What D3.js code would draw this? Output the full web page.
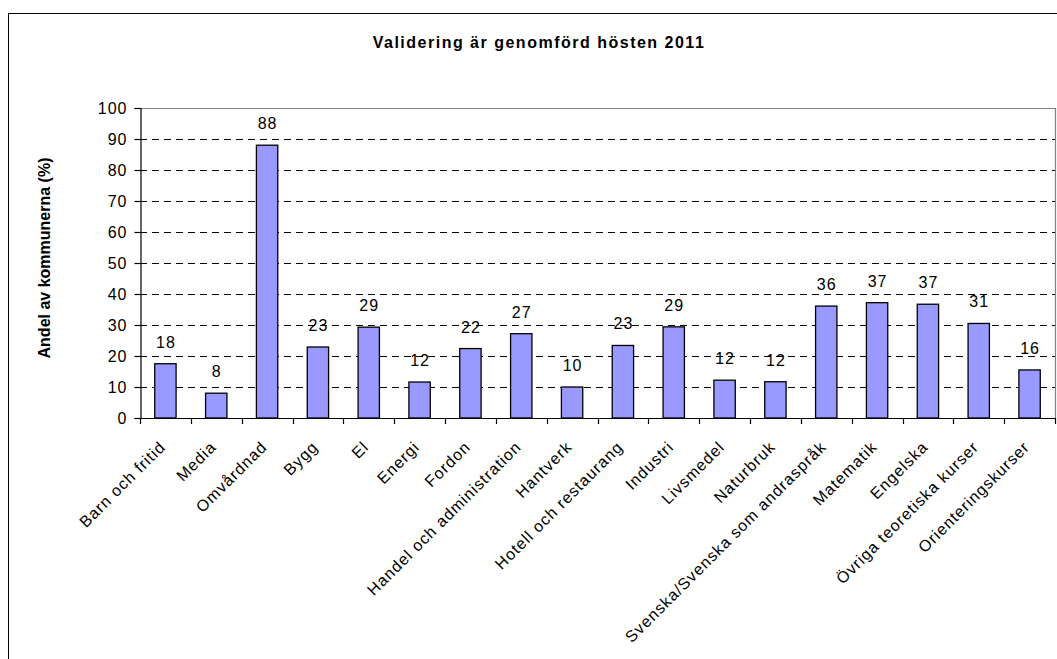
<!DOCTYPE html>
<html><head><meta charset="utf-8">
<script src="https://cdn.jsdelivr.net/npm/d3@7"></script>
<style>
body{margin:0;background:#fff;}
svg{display:block;font-family:"Liberation Sans",Arial,sans-serif;}
</style></head>
<body><svg id="c" width="1057" height="659"></svg>
<script>
const categories = ["Barn och fritid","Media","Omvårdnad","Bygg","El","Energi","Fordon","Handel och administration","Hantverk","Hotell och restaurang","Industri","Livsmedel","Naturbruk","Svenska/Svenska som andraspråk","Matematik","Engelska","Övriga teoretiska kurser","Orienteringskurser"];
const values = [17.5, 8, 88, 22.9, 29.3, 11.6, 22.4, 27.2, 10, 23.4, 29.4, 12.2, 11.7, 36.1, 37.2, 36.7, 30.5, 15.5];
const yTicks = [0,10,20,30,40,50,60,70,80,90,100];
const title = "Validering är genomförd hösten 2011";
const yTitle = "Andel av kommunerna (%)";

const svg = d3.select("#c");
const L = 140, R = 1055, T = 108, B = 418;

// outer frame
svg.append("rect").attr("x",8.5).attr("y",13.5).attr("width",1100).attr("height",700)
  .attr("fill","none").attr("stroke","#000").attr("stroke-width",1);

const x = d3.scaleBand().domain(categories).range([L,R]).paddingInner(0.58).paddingOuter(0.29);
const x0 = d3.scaleBand().domain(categories).range([L,R]).padding(0);
const y = d3.scaleLinear().domain([0,100]).range([B,T]);

// title
svg.append("text").attr("x",539).attr("y",48).attr("text-anchor","middle")
  .attr("font-size",16).attr("font-weight","bold").attr("letter-spacing","1.5px").text(title);

// gridlines
svg.append("g").selectAll("line").data(yTicks.filter(d=>d>0 && d<100)).join("line")
  .attr("x1",L).attr("x2",R).attr("y1",d=>Math.round(y(d))+0.5).attr("y2",d=>Math.round(y(d))+0.5)
  .attr("stroke","#000").attr("stroke-dasharray","7,5").attr("stroke-width",1);

// plot border top/right
svg.append("path").attr("d",`M${L},${Math.round(T)+0.5}H${R+0.5}V${B}`)
  .attr("fill","none").attr("stroke","#808080").attr("stroke-width",1.2);

// bars
svg.append("g").selectAll("rect").data(values).join("rect")
  .attr("x",(d,i)=>x(categories[i])).attr("width",x.bandwidth())
  .attr("y",d=>y(d)).attr("height",d=>y(0)-y(d))
  .attr("fill","#9999FF").attr("stroke","#000").attr("stroke-width",1.3);

// value labels
svg.append("g").selectAll("text").data(values).join("text")
  .attr("x",(d,i)=>x(categories[i])+x.bandwidth()/2+0.5).attr("y",d=>y(d)-16)
  .attr("text-anchor","middle").attr("font-size",16).attr("letter-spacing","1px").text(d=>Math.round(d));

// y axis
const ya = d3.axisLeft(y).tickValues(yTicks).tickSize(6).tickPadding(7);
const gy = svg.append("g").attr("transform",`translate(${L+0.5},0)`).call(ya);
gy.selectAll("text").attr("font-size",16).attr("font-family","Liberation Sans, Arial").attr("fill","#000").attr("letter-spacing","1px");
gy.selectAll("line,path").attr("stroke","#000").attr("stroke-width",1.2);

// x axis
const gx = svg.append("g");
gx.append("line").attr("x1",L).attr("x2",R).attr("y1",B+0.5).attr("y2",B+0.5).attr("stroke","#000").attr("stroke-width",1.2);
gx.selectAll("line.t").data(categories.concat(["__end"])).join("line").attr("class","t")
  .attr("x1",(d,i)=>i<categories.length? Math.round(x0(d))+0.5 : R+0.5)
  .attr("x2",(d,i)=>i<categories.length? Math.round(x0(d))+0.5 : R+0.5)
  .attr("y1",B).attr("y2",B+6).attr("stroke","#000").attr("stroke-width",1.2);
gx.selectAll("text").data(categories).join("text")
  .attr("transform",d=>`translate(${x(d)+x.bandwidth()/2+1},${B+30}) rotate(-45)`)
  .attr("text-anchor","end").attr("font-size",16).attr("letter-spacing","1px").text(d=>d);

// y title
svg.append("text").attr("transform",`translate(49.5,258) rotate(-90)`)
  .attr("text-anchor","middle").attr("font-size",16).attr("font-weight","bold").text(yTitle);
</script></body></html>
